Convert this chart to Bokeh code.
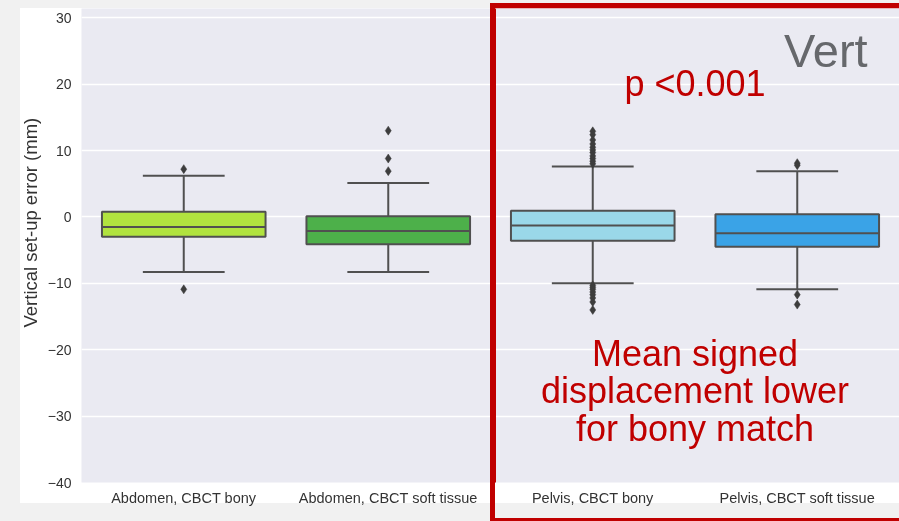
from bokeh.plotting import figure
from bokeh.models import ColumnDataSource, FixedTicker, BoxAnnotation, InlineStyleSheet, Title
from bokeh.core.properties import value
from bokeh.embed import file_html
from bokeh.resources import INLINE

# ---- data ----
categories = ["Abdomen, CBCT bony", "Abdomen, CBCT soft tissue",
              "Pelvis, CBCT bony", "Pelvis, CBCT soft tissue"]
box_colors = ["#B1E33F", "#4DB04A", "#9AD8E9", "#3AA3E7"]
q1 = [-3.0, -4.1, -3.6, -4.5]
median = [-1.5, -2.1, -1.3, -2.45]
q3 = [0.8, 0.1, 0.95, 0.4]
whisker_low = [-8.3, -8.3, -10.0, -10.9]
whisker_high = [6.2, 5.1, 7.6, 6.9]
outliers_abd_bony = [7.2, -10.9]
outliers_abd_soft = [13.0, 8.8, 6.9]
outliers_pel_bony = [12.9, 12.4, 11.6, 11.0, 10.5, 10.1, 9.7, 9.2, 8.8, 8.4, 8.0,
                     -10.3, -10.6, -10.9, -11.3, -11.7, -12.2, -12.8, -14.0]
outliers_pel_soft = [8.1, 7.8, -11.7, -13.2]
y_ticks = [-40, -30, -20, -10, 0, 10, 20, 30]
y_tick_labels = ["\u221240", "\u221230", "\u221220", "\u221210", "0", "10", "20", "30"]
y_label = "Vertical set-up error (mm)"

FONT = "Liberation Sans"
LINE = "#505050"
RED = "#C00000"

xs = list(range(len(categories)))

# page decorations: slide background around the chart card, and the red highlight frame
deco_css = InlineStyleSheet(css=f"""
:host {{ position: relative; }}
:host::before {{
  content: "";
  position: absolute;
  left: 0; top: 0; width: 899px; height: 521px;
  border-left: 20px solid #F1F1F1;
  border-top: 8px solid #F1F1F1;
  border-bottom: 18px solid #F1F1F1;
  box-sizing: border-box;
  mix-blend-mode: multiply;
  pointer-events: none;
  z-index: 50;
}}
:host::after {{
  content: "";
  position: absolute;
  left: 490px; top: 3px; width: 460px; height: 520px;
  border: 5px solid {RED};
  border-right: none;
  box-sizing: border-box;
  pointer-events: none;
  z-index: 100;
}}
""")

p = figure(width=899, height=521, output_backend="svg", toolbar_location=None,
           x_range=(-0.5, 3.5), y_range=(-40, 31.4),
           min_border_left=81, min_border_right=0, min_border_top=8, min_border_bottom=39,
           stylesheets=[deco_css])
p.background_fill_color = "#EAEAF2"
p.border_fill_color = "white"
p.outline_line_color = None

p.xgrid.grid_line_color = None
p.ygrid.grid_line_color = "white"
p.ygrid.grid_line_width = 1.5
p.ygrid.ticker = FixedTicker(ticks=y_ticks)

# axes
p.yaxis.ticker = FixedTicker(ticks=y_ticks)
p.yaxis.major_label_overrides = {t: l for t, l in zip(y_ticks, y_tick_labels)}
p.xaxis.ticker = FixedTicker(ticks=xs)
p.xaxis.major_label_overrides = {i: c for i, c in zip(xs, categories)}
for ax in (p.xaxis[0], p.yaxis[0]):
    ax.axis_line_color = None
    ax.major_tick_line_color = None
    ax.minor_tick_line_color = None
    ax.major_tick_out = 0
    ax.major_tick_in = 0
    ax.minor_tick_out = 0
    ax.minor_tick_in = 0
    ax.major_label_text_font = FONT
    ax.major_label_text_color = "#333333"
p.yaxis.major_label_text_font_size = "14px"
p.yaxis.major_label_standoff = 10
p.xaxis.major_label_text_font_size = "14.5px"
p.xaxis.major_label_standoff = 7

# y-axis title, in the left panel, placed as in the reference
p.add_layout(Title(text=y_label, align="left", offset=155, standoff=7,
                   text_font=FONT, text_font_size="18.5px", text_font_style="normal",
                   text_color="#333333"), "left")

# boxes
src = ColumnDataSource(dict(x=xs, q1=q1, q3=q3, med=median, lo=whisker_low, hi=whisker_high,
                            color=box_colors,
                            l=[x - 0.4 for x in xs], r=[x + 0.4 for x in xs],
                            cl=[x - 0.2 for x in xs], cr=[x + 0.2 for x in xs]))
p.segment(x0="x", y0="q3", x1="x", y1="hi", source=src, line_color=LINE, line_width=2)
p.segment(x0="x", y0="q1", x1="x", y1="lo", source=src, line_color=LINE, line_width=2)
p.segment(x0="cl", y0="hi", x1="cr", y1="hi", source=src, line_color=LINE, line_width=2)
p.segment(x0="cl", y0="lo", x1="cr", y1="lo", source=src, line_color=LINE, line_width=2)
p.vbar(x="x", width=0.8, top="q3", bottom="q1", source=src, fill_color="color",
       line_color=LINE, line_width=2)
p.segment(x0="l", y0="med", x1="r", y1="med", source=src, line_color=LINE, line_width=2)

# outliers
ox, oy = [], []
for i, arr in enumerate([outliers_abd_bony, outliers_abd_soft, outliers_pel_bony, outliers_pel_soft]):
    ox += [xs[i]] * len(arr)
    oy += arr
p.scatter(x=ox, y=oy, marker="diamond", size=9, fill_color="#3d3d3d", line_color="#3d3d3d",
          line_width=0.5)

# annotation texts
p.text(x=[3.14], y=[25.1], text=["Vert"], text_font=value(FONT), text_font_size="47px",
       text_color="#66686C", text_align="center", text_baseline="alphabetic")
p.text(x=[2.5], y=[20.03], text=["p <0.001"], text_font=value(FONT), text_font_size="36px",
       text_color=RED, text_align="center", text_baseline="alphabetic")
p.text(x=[2.5, 2.5, 2.5], y=[-20.64, -26.21, -31.93],
       text=["Mean signed", "displacement lower", "for bony match"],
       text_font=value(FONT), text_font_size="36px",
       text_color=RED, text_align="center", text_baseline="alphabetic")

# left edge of the highlight inside the plot frame (same place as the CSS frame)
p.add_layout(BoxAnnotation(left=1.5147, right=4.2, top=31.78, bottom=-45.4,
                           fill_alpha=0, fill_color=None, line_alpha=1.0,
                           line_color=RED, line_width=5, level="overlay"))

open("out.html", "w").write(file_html(p, INLINE))
